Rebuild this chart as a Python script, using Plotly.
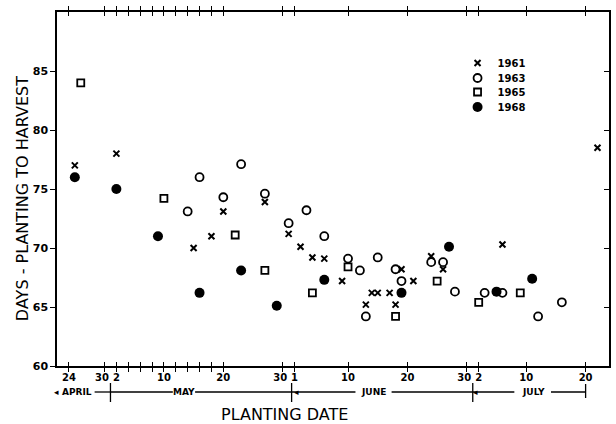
import plotly.graph_objects as go

YEAR = "2000-"

dates_1961 = ["04-25", "05-02", "05-15", "05-18", "05-20", "05-27", "05-31", "06-02", "06-04",
              "06-06", "06-09", "06-13", "06-14", "06-15", "06-17", "06-18", "06-19", "06-21",
              "06-24", "06-26", "07-06", "07-22"]
days_1961 = [77.0, 78.0, 70.0, 71.0, 73.1, 73.9, 71.2, 70.1, 69.2,
             69.1, 67.2, 65.2, 66.2, 66.2, 66.2, 65.2, 68.2, 67.2,
             69.3, 68.2, 70.3, 78.5]

dates_1963 = ["05-14", "05-16", "05-20", "05-23", "05-27", "05-31", "06-03", "06-06", "06-10",
              "06-12", "06-13", "06-15", "06-18", "06-19", "06-24", "06-26", "06-28", "07-03",
              "07-06", "07-12", "07-16"]
days_1963 = [73.1, 76.0, 74.3, 77.1, 74.6, 72.1, 73.2, 71.0, 69.1,
             68.1, 64.2, 69.2, 68.2, 67.2, 68.8, 68.8, 66.3, 66.2,
             66.2, 64.2, 65.4]

dates_1965 = ["04-26", "05-10", "05-22", "05-27", "06-04", "06-10", "06-18", "06-25", "07-02", "07-09"]
days_1965 = [84.0, 74.2, 71.1, 68.1, 66.2, 68.4, 64.2, 67.2, 65.4, 66.2]

dates_1968 = ["04-25", "05-02", "05-09", "05-16", "05-23", "05-29", "06-06", "06-19", "06-27",
              "07-05", "07-11"]
days_1968 = [76.0, 75.0, 71.0, 66.2, 68.1, 65.1, 67.3, 66.2, 70.1, 66.3, 67.4]

tick_dates = ["04-24", "04-30", "05-02", "05-04", "05-06", "05-08", "05-10", "05-12", "05-14",
              "05-16", "05-18", "05-20", "05-30", "06-01", "06-10", "06-20", "06-30", "07-02",
              "07-10", "07-20"]
tick_labels = ["24", "30\u2002", "2", "", "", "", "10", "", "", "", "", "20", "30\u2002", "1", "10", "20",
               "30\u2002", "2", "10", "20"]
y_ticks = [60, 65, 70, 75, 80, 85]

def d(s):
    return YEAR + s

FONT = "DejaVu Sans"
fig = go.Figure()

series = [
    ("1961", dates_1961, days_1961, dict(symbol="x-thin", size=6, color="black",
                                          line=dict(width=2, color="black"))),
    ("1963", dates_1963, days_1963, dict(symbol="circle-open", size=8, color="black",
                                          line=dict(width=1.8, color="black"))),
    ("1965", dates_1965, days_1965, dict(symbol="square-open", size=7, color="black",
                                          line=dict(width=1.8, color="black"))),
    ("1968", dates_1968, days_1968, dict(symbol="circle", size=10, color="black",
                                          line=dict(width=0))),
]
legend_names = ["legend", "legend2", "legend3", "legend4"]
for (name, dts, vals, mk), lg in zip(series, legend_names):
    fig.add_trace(go.Scatter(x=[d(s) for s in dts], y=vals, mode="markers", name=name,
                             marker=mk, legend=lg, cliponaxis=False))

# empty trace to bring the right-hand tick axis to life
fig.add_trace(go.Scatter(x=[], y=[], yaxis="y2", showlegend=False))

leg_rows = [63, 78, 92, 107]
W0, H0, PW, PH = 57, 12, 554, 354
def px(p):
    return (p - W0) / PW
def py(p):
    return (H0 + PH - p) / PH

leg_common = dict(bgcolor="rgba(0,0,0,0)", borderwidth=0, font=dict(family=FONT, size=10, weight="bold", color="black"),
                  xanchor="left", yanchor="middle", itemwidth=30)
layout_legends = {}
for lg, row in zip(legend_names, leg_rows):
    layout_legends[lg] = dict(x=px(459), y=py(row), **leg_common)

xrange = ["2000-04-22 00:00", "2000-07-23 22:30"]

fig.update_layout(
    width=616, height=424,
    margin=dict(l=57, r=5, t=12, b=58),
    paper_bgcolor="white", plot_bgcolor="white",
    font=dict(family=FONT, color="black"),
    showlegend=True,
    xaxis=dict(type="date", range=xrange, tickvals=[d(s) for s in tick_dates], ticktext=tick_labels,
               tickangle=0,
               ticks="inside", ticklen=4, tickwidth=1.3, tickcolor="black", mirror="allticks",
               showline=True, linecolor="black", linewidth=1.5, showgrid=False, zeroline=False,
               tickfont=dict(family=FONT, size=10, weight="bold", color="black"), ticklabelstandoff=1),
    yaxis=dict(range=[60, 90], tickvals=y_ticks, ticks="outside", ticklen=5, tickwidth=1.3,
               tickcolor="black", showline=True, linecolor="black", linewidth=1.5, mirror=True,
               showgrid=False, zeroline=False,
               tickfont=dict(family=FONT, size=11, weight="bold", color="black")),
    yaxis2=dict(overlaying="y", side="right", matches="y", tickvals=y_ticks, ticks="inside",
                ticklen=5, tickwidth=1.3, tickcolor="black", showticklabels=False,
                showgrid=False, zeroline=False, showline=False, anchor="x"),
    **layout_legends,
)

# month band under the axis
row = py(392)
lw = dict(color="black", width=1.3)
segments = [("04-28 08:00", "05-01"), ("05-01", "05-11 12:00"), ("05-15 06:00", "05-31 12:00"),
            ("05-31 12:00", "06-11 06:00"), ("06-17 08:00", "07-01"), ("07-01", "07-08"),
            ("07-14 04:00", "07-20")]
for a, b in segments:
    fig.add_shape(type="line", xref="x", yref="paper", x0=d(a), x1=d(b), y0=row, y1=row, line=lw)
for t, top, bot in [("05-01", 383, 402), ("05-31 12:00", 383, 402), ("07-01", 383, 402), ("07-20", 384, 398)]:
    fig.add_shape(type="line", xref="x", yref="paper", x0=d(t), x1=d(t), y0=py(top), y1=py(bot), line=lw)

month_font = dict(family=FONT, size=9, weight="bold", color="black")
for txt, xd in [("APRIL", "04-25 10:00"), ("MAY", "05-13 10:00"), ("JUNE", "06-14 06:00"), ("JULY", "07-11 04:00")]:
    fig.add_annotation(x=d(xd), y=row, xref="x", yref="paper", text=txt, showarrow=False,
                       font=month_font, xanchor="center", yanchor="middle")
arrow_font = dict(family=FONT, size=9, color="black")
fig.add_annotation(x=px(56), y=row, xref="paper", yref="paper", text="◂", showarrow=False,
                   font=arrow_font, xanchor="center", yanchor="middle")
for xd in ["06-01 08:00", "07-01 12:00"]:
    fig.add_annotation(x=d(xd), y=row, xref="x", yref="paper", text="◂", showarrow=False,
                       font=arrow_font, xanchor="center", yanchor="middle")

fig.add_annotation(x=px(285), y=py(414), xref="paper", yref="paper", text="PLANTING DATE",
                   showarrow=False, font=dict(family=FONT, size=16, color="black"),
                   xanchor="center", yanchor="middle")
fig.add_annotation(x=px(22), y=py(199), xref="paper", yref="paper", text="DAYS - PLANTING TO HARVEST",
                   showarrow=False, textangle=-90, font=dict(family=FONT, size=16, color="black"),
                   xanchor="center", yanchor="middle")

fig.write_html("out.html", config={"displayModeBar": False},
               post_script="document.body.style.margin='0';document.body.style.overflow='hidden';")
